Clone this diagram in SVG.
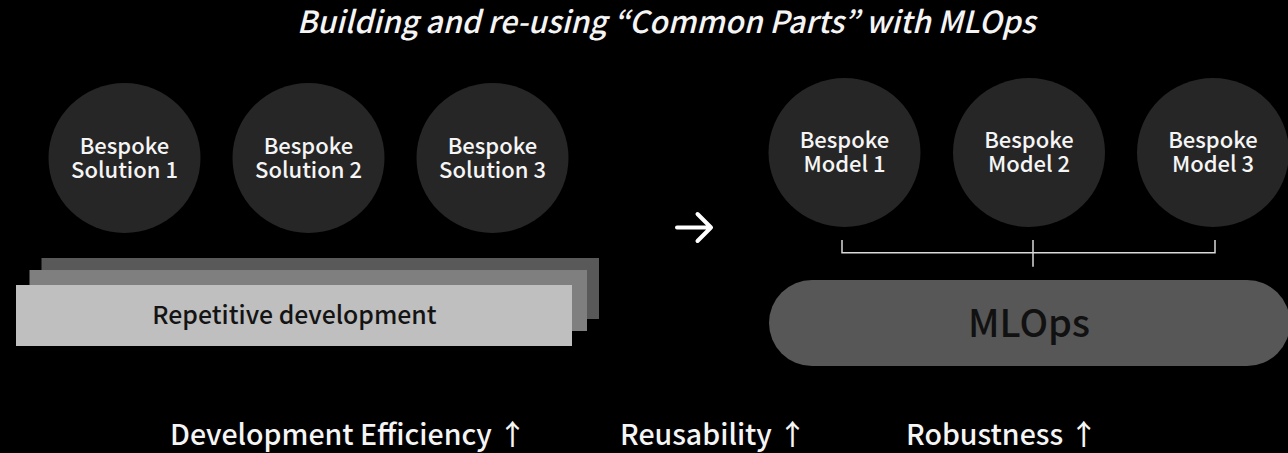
<svg xmlns="http://www.w3.org/2000/svg" width="1288" height="453" viewBox="0 0 1288 453">
  <style>
    text { font-family: "Noto Sans CJK KR", "Noto Sans", sans-serif; }
    .bubble { fill: #262626; }
    .bubble-label { fill: #f5f5f5; font-size: 22px; font-weight: 500; text-anchor: middle; }
    .metric { fill: #f5f5f5; font-size: 28.5px; font-weight: 500; }
    .bracket { stroke: #d9d9d9; stroke-width: 1.5; fill: none; }
  </style>

  <rect width="1288" height="453" fill="#000"/>

  <text id="title" x="666" y="33" fill="#f5f5f5" font-size="30.4" font-weight="500" font-style="italic" text-anchor="middle">Building and re-using “Common Parts” with MLOps</text>

  <!-- bespoke solutions -->
  <g id="solution-1">
    <ellipse class="bubble" cx="124.5" cy="158" rx="76" ry="75"/>
    <text class="bubble-label" x="124.5" y="154"><tspan x="124.5">Bespoke</tspan><tspan x="124.5" dy="24">Solution 1</tspan></text>
  </g>
  <g id="solution-2">
    <ellipse class="bubble" cx="308.5" cy="158" rx="76" ry="75"/>
    <text class="bubble-label" x="308.5" y="154"><tspan x="308.5">Bespoke</tspan><tspan x="308.5" dy="24">Solution 2</tspan></text>
  </g>
  <g id="solution-3">
    <ellipse class="bubble" cx="492.5" cy="158" rx="76" ry="75"/>
    <text class="bubble-label" x="492.5" y="154"><tspan x="492.5">Bespoke</tspan><tspan x="492.5" dy="24">Solution 3</tspan></text>
  </g>

  <!-- stacked development layers -->
  <g id="repetitive-development">
    <rect x="41.5" y="258" width="557.5" height="61" fill="#595959"/>
    <rect x="29.5" y="270" width="557.5" height="61" fill="#7f7f7f"/>
    <rect x="16" y="285" width="556" height="61" fill="#bfbfbf"/>
    <text x="294.5" y="323.5" fill="#141414" font-size="24.8" font-weight="500" text-anchor="middle">Repetitive development</text>
  </g>

  <!-- bespoke models -->
  <g id="model-1">
    <ellipse class="bubble" cx="844.5" cy="152.5" rx="76" ry="74.5"/>
    <text class="bubble-label" x="844.5" y="147.5"><tspan x="844.5">Bespoke</tspan><tspan x="844.5" dy="24">Model 1</tspan></text>
  </g>
  <g id="model-2">
    <ellipse class="bubble" cx="1029" cy="152.5" rx="76" ry="74.5"/>
    <text class="bubble-label" x="1029" y="147.5"><tspan x="1029">Bespoke</tspan><tspan x="1029" dy="24">Model 2</tspan></text>
  </g>
  <g id="model-3">
    <ellipse class="bubble" cx="1213" cy="152.5" rx="76" ry="74.5"/>
    <text class="bubble-label" x="1213" y="147.5"><tspan x="1213">Bespoke</tspan><tspan x="1213" dy="24">Model 3</tspan></text>
  </g>

  <g id="mlops">
    <rect x="769" y="280" width="521" height="86" rx="43" ry="43" fill="#575757"/>
    <text x="1029" y="337" fill="#111" font-size="38" font-weight="500" text-anchor="middle">MLOps</text>
  </g>

  <!-- connectors -->
  <g id="connectors">
    <path d="M677 227.5 H711 M697.5 214 L711 227.5 L697.5 241" stroke="#fff" stroke-width="4" fill="none" stroke-linecap="round" stroke-linejoin="round"/>
    <path class="bracket" d="M842 240 V252.7 H1215 V240 M1033 240 V266.7"/>
  </g>

  <!-- outcomes -->
  <g id="outcomes">
    <text class="metric" x="170" y="445">Development Efficiency ↑</text>
    <text class="metric" x="620" y="445">Reusability ↑</text>
    <text class="metric" x="906" y="445">Robustness ↑</text>
  </g>
</svg>
